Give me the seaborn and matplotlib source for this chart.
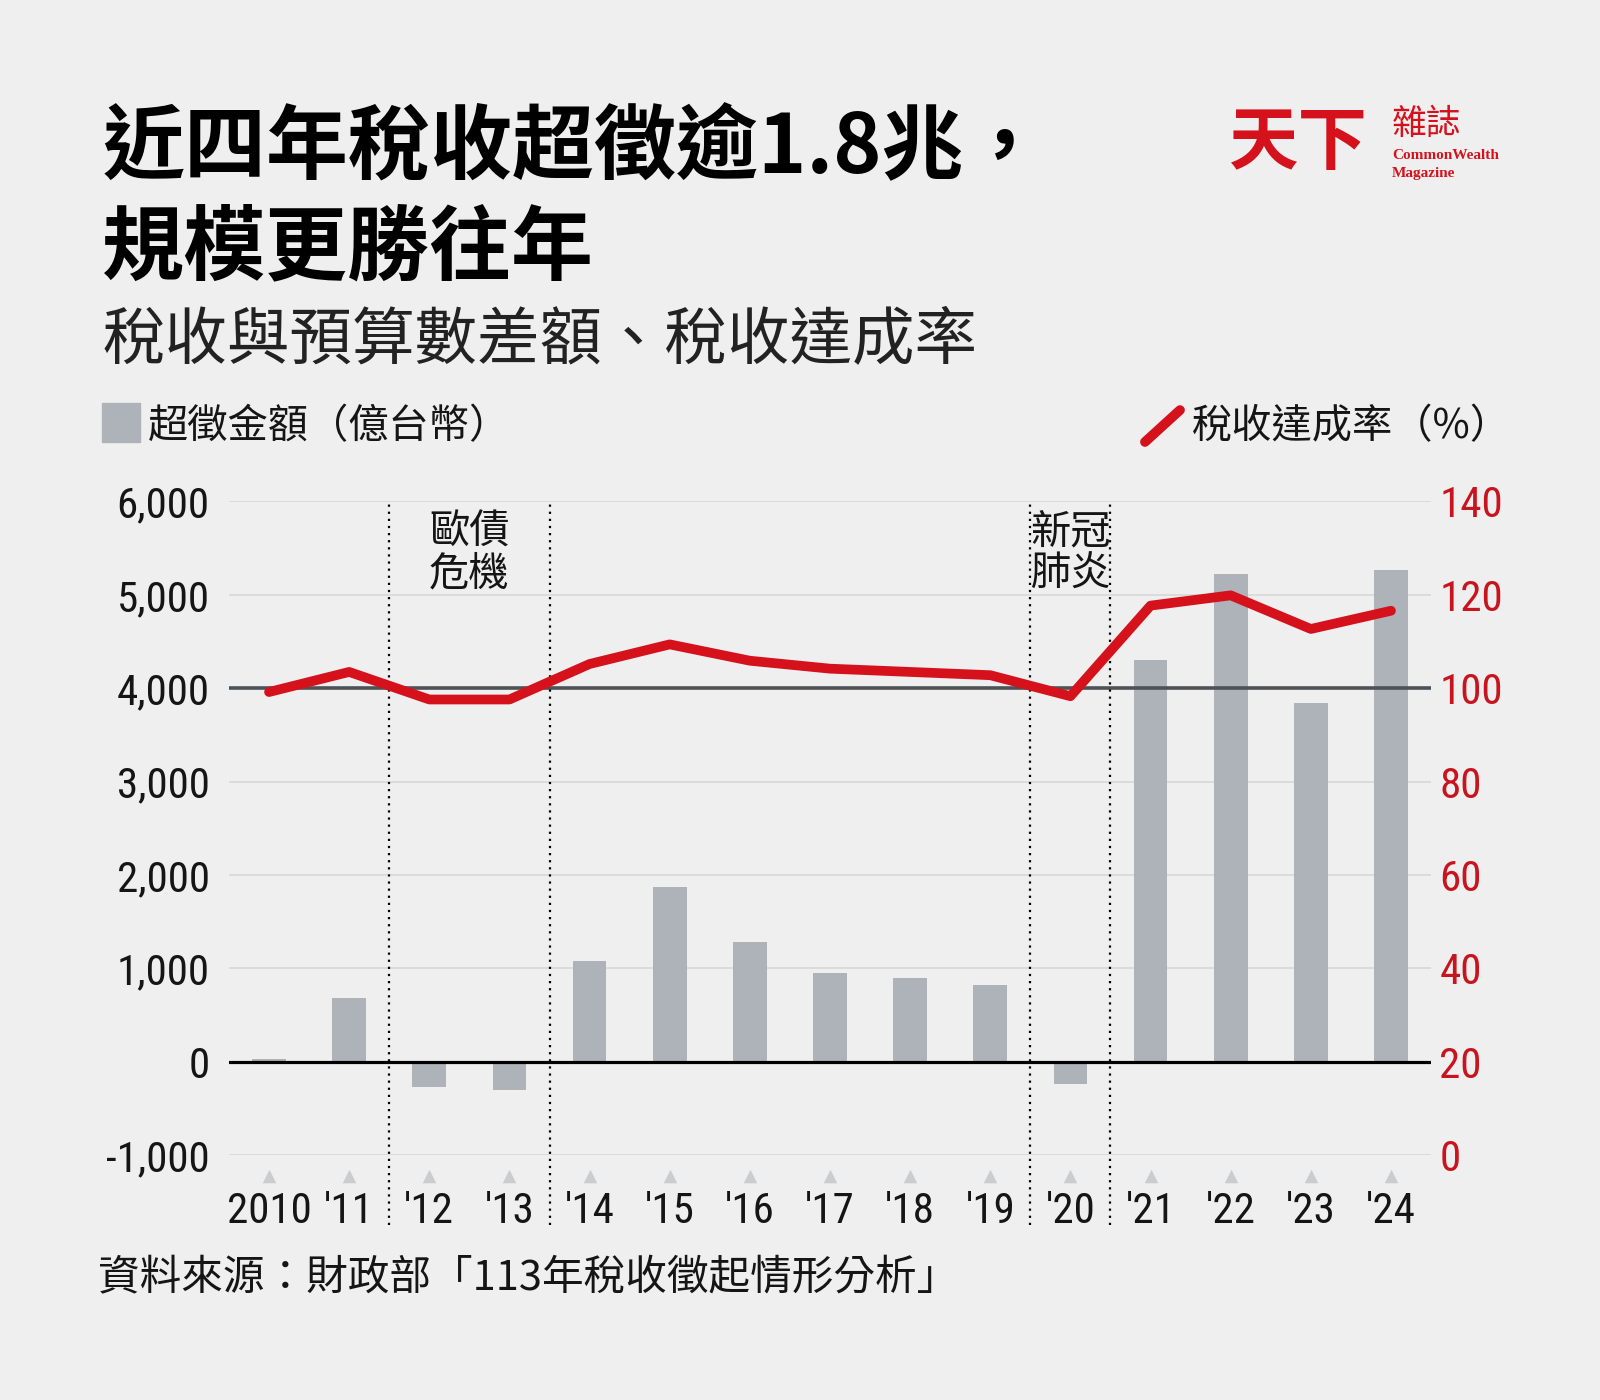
import matplotlib
matplotlib.use("Agg")
import matplotlib.pyplot as plt
from matplotlib.lines import Line2D
from matplotlib.patches import Rectangle
from matplotlib import font_manager
import pandas as pd
import seaborn as sns

# data
years = ["2010", "'11", "'12", "'13", "'14", "'15", "'16", "'17", "'18", "'19",
         "'20", "'21", "'22", "'23", "'24"]
excess = [30, 680, -270, -300, 1080, 1870, 1280, 950, 900, 820,
          -240, 4300, 5220, 3840, 5270]          # 超徵金額 (億台幣)
rate = [99.2, 103.5, 97.6, 97.6, 105.2, 109.4, 105.9, 104.2, 103.5, 102.8,
        98.3, 117.7, 119.9, 112.7, 116.6]         # 稅收達成率 (%)
left_ticks = [-1000, 0, 1000, 2000, 3000, 4000, 5000, 6000]
left_labels = ["-1,000", "0", "1,000", "2,000", "3,000", "4,000", "5,000", "6,000"]
right_ticks = [0, 20, 40, 60, 80, 100, 120, 140]
events = [(1.5, 3.5, "歐債\n危機"), (9.5, 10.5, "新冠\n肺炎")]

BG = "#efefef"
BAR = "#adb3b9"
RED = "#d5121c"
INK = "#151515"
CJK = ["Noto Sans CJK TC", "DejaVu Sans"]

# pick a narrow face for the numbers if one is installed
installed = {f.name for f in font_manager.fontManager.ttflist}
narrow = [n for n in ["Roboto Condensed", "DejaVu Sans Condensed",
                      "Liberation Sans Narrow"] if n in installed]
NUM = narrow[:1] + ["Liberation Sans", "DejaVu Sans"]
NUM_SIZE = 31 if narrow else 27
num_font = dict(fontfamily=NUM, fontsize=NUM_SIZE, fontstretch="condensed")

sns.set_theme(style="white")
plt.rcParams["font.family"] = CJK

df = pd.DataFrame({"year": years, "excess": excess, "rate": rate})
df["pos"] = range(len(df))

fig = plt.figure(figsize=(16, 14), dpi=100, facecolor=BG)
ax = fig.add_axes([0.1431, 0.1748, 0.7513, 0.4670])
ax.set_facecolor(BG)

sns.barplot(data=df, x="year", y="excess", color=BAR, width=0.42,
            saturation=1, linewidth=0, ax=ax, zorder=3)
ax.set_xlim(-0.5, len(years) - 0.5)
ax.set_ylim(-1000, 6000)
ax.set_xlabel("")
ax.set_ylabel("")
ax.grid(axis="y", color="#d8d8d8", lw=1.2, zorder=0)
ax.grid(axis="x", visible=False)
ax.axhline(0, color="black", lw=2.3, zorder=4)
ax.axhline(4000, color="#4b5258", lw=2.6, zorder=4)
for s in ax.spines.values():
    s.set_visible(False)

ax.set_yticks(left_ticks)
ax.set_yticklabels(left_labels, color=INK, **num_font)
ax.set_xticks(range(len(years)))
ax.set_xticklabels(years, color=INK, **num_font)
ax.tick_params(axis="y", length=0, pad=14)
ax.tick_params(axis="x", length=0, pad=26)

# little triangles above the year labels
ax.scatter(df["pos"], [-0.032] * len(df), marker="^", s=95, color="#c9cdd0",
           transform=ax.get_xaxis_transform(), clip_on=False, zorder=2,
           linewidths=0)

# event separators + labels
for x0, x1, label in events:
    for xv in (x0, x1):
        ax.axvline(xv, ymin=-0.107, ymax=0.998, color="black", lw=1.6,
                   ls=(0, (1, 2.2)), clip_on=False, zorder=5)
    ax.text((x0 + x1) / 2, 0.985, label, transform=ax.get_xaxis_transform(),
            ha="center", va="top", fontsize=29, color=INK, linespacing=1.05)

ax2 = ax.twinx()
sns.lineplot(data=df, x="pos", y="rate", color=RED, lw=7, ax=ax2,
             solid_capstyle="round", solid_joinstyle="round", zorder=6)
ax2.set_ylim(0, 140)
ax2.set_xlim(-0.5, len(years) - 0.5)
ax2.set_xlabel("")
ax2.set_ylabel("")
ax2.set_yticks(right_ticks)
ax2.set_yticklabels([str(t) for t in right_ticks], color="#c8141e", **num_font)
ax2.tick_params(axis="y", length=0, pad=6)
ax2.grid(False)
for s in ax2.spines.values():
    s.set_visible(False)

# titles
fig.text(0.064, 0.893, "近四年稅收超徵逾1.8兆，", fontsize=59, fontweight="bold",
         color="black", va="center", ha="left")
fig.text(0.064, 0.822, "規模更勝往年", fontsize=59, fontweight="bold",
         color="black", va="center", ha="left")
fig.text(0.064, 0.757, "稅收與預算數差額、稅收達成率", fontsize=45,
         fontweight="light", color="#222222", va="center", ha="left")

# legend
fig.patches.append(Rectangle((0.06375, 0.6843), 0.02375, 0.0278,
                             transform=fig.transFigure, color=BAR))
fig.text(0.0925, 0.6955, "超徵金額（億台幣）", fontsize=29, color=INK,
         va="center", ha="left")
fig.add_artist(Line2D([0.7156, 0.7375], [0.6843, 0.7071], color=RED, lw=7,
                      solid_capstyle="round", transform=fig.transFigure))
fig.text(0.745, 0.6955, "稅收達成率（%）", fontsize=29, color=INK,
         va="center", ha="left")

# logo
fig.text(0.768, 0.8976, "天下", fontsize=50, fontweight="bold", color=RED,
         va="center", ha="left")
fig.text(0.87, 0.9114, "雜誌", fontsize=25, color=RED, va="center", ha="left")
fig.text(0.87, 0.8886, "CommonWealth", fontsize=11, fontweight="bold",
         family=["Liberation Serif", "DejaVu Serif"], color=RED,
         va="center", ha="left")
fig.text(0.87, 0.8764, "Magazine", fontsize=11, fontweight="bold",
         family=["Liberation Serif", "DejaVu Serif"], color=RED,
         va="center", ha="left")

# source
fig.text(0.061, 0.0864, "資料來源：財政部「113年稅收徵起情形分析」", fontsize=30,
         color=INK, va="center", ha="left")

fig.savefig("out.png", dpi=100, facecolor=BG)
